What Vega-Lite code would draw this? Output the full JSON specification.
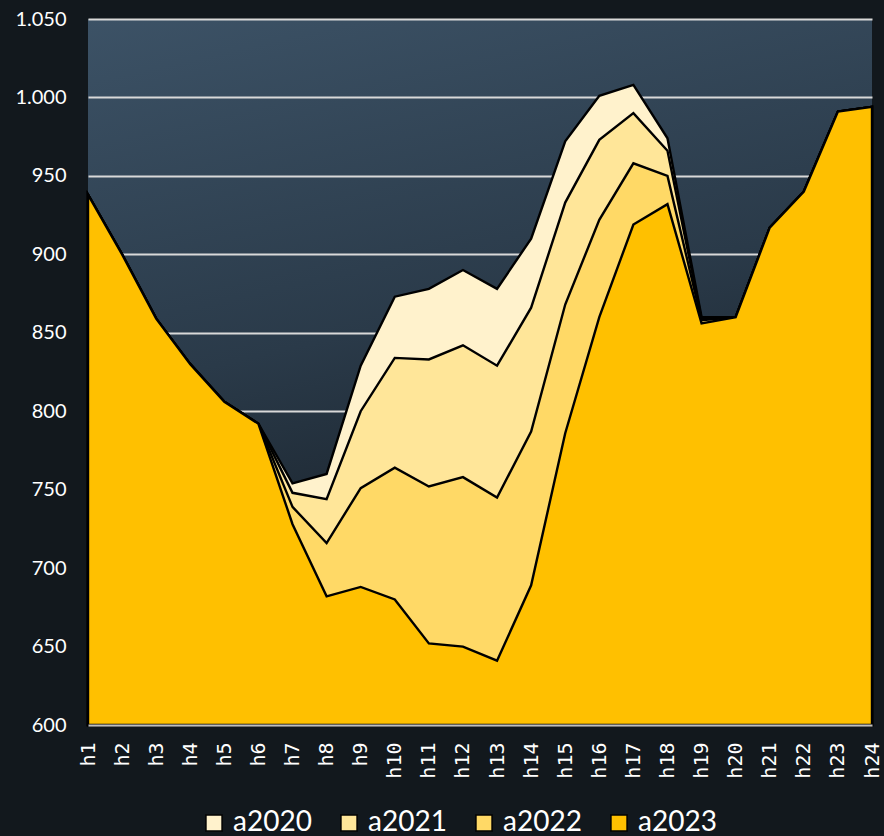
{
  "$schema": "https://vega.github.io/schema/vega-lite/v6.json",
  "autosize": "none",
  "width": 784,
  "height": 706,
  "padding": {"left": 88, "top": 19, "right": 12, "bottom": 111},
  "background": "#12181d",
  "config": {
    "view": {"stroke": null, "fill": {"gradient": "linear", "x1": 0, "y1": 0, "x2": 0.25, "y2": 1, "stops": [{"offset": 0, "color": "#3c5266"}, {"offset": 0.5, "color": "#2a3a49"}, {"offset": 1, "color": "#12181e"}]}},
    "font": "Lato"
  },
  "data": {
    "values": [
      {"h": "h1", "s": "a2020", "v": 938}, {"h": "h2", "s": "a2020", "v": 900}, {"h": "h3", "s": "a2020", "v": 859}, {"h": "h4", "s": "a2020", "v": 830},
      {"h": "h5", "s": "a2020", "v": 806}, {"h": "h6", "s": "a2020", "v": 792}, {"h": "h7", "s": "a2020", "v": 754}, {"h": "h8", "s": "a2020", "v": 760},
      {"h": "h9", "s": "a2020", "v": 829}, {"h": "h10", "s": "a2020", "v": 873}, {"h": "h11", "s": "a2020", "v": 878}, {"h": "h12", "s": "a2020", "v": 890},
      {"h": "h13", "s": "a2020", "v": 878}, {"h": "h14", "s": "a2020", "v": 910}, {"h": "h15", "s": "a2020", "v": 972}, {"h": "h16", "s": "a2020", "v": 1001},
      {"h": "h17", "s": "a2020", "v": 1008}, {"h": "h18", "s": "a2020", "v": 974}, {"h": "h19", "s": "a2020", "v": 860}, {"h": "h20", "s": "a2020", "v": 860},
      {"h": "h21", "s": "a2020", "v": 917}, {"h": "h22", "s": "a2020", "v": 940}, {"h": "h23", "s": "a2020", "v": 991}, {"h": "h24", "s": "a2020", "v": 994},
      {"h": "h1", "s": "a2021", "v": 938}, {"h": "h2", "s": "a2021", "v": 900}, {"h": "h3", "s": "a2021", "v": 859}, {"h": "h4", "s": "a2021", "v": 830},
      {"h": "h5", "s": "a2021", "v": 806}, {"h": "h6", "s": "a2021", "v": 792}, {"h": "h7", "s": "a2021", "v": 748}, {"h": "h8", "s": "a2021", "v": 744},
      {"h": "h9", "s": "a2021", "v": 800}, {"h": "h10", "s": "a2021", "v": 834}, {"h": "h11", "s": "a2021", "v": 833}, {"h": "h12", "s": "a2021", "v": 842},
      {"h": "h13", "s": "a2021", "v": 829}, {"h": "h14", "s": "a2021", "v": 866}, {"h": "h15", "s": "a2021", "v": 933}, {"h": "h16", "s": "a2021", "v": 973},
      {"h": "h17", "s": "a2021", "v": 990}, {"h": "h18", "s": "a2021", "v": 966}, {"h": "h19", "s": "a2021", "v": 859}, {"h": "h20", "s": "a2021", "v": 860},
      {"h": "h21", "s": "a2021", "v": 917}, {"h": "h22", "s": "a2021", "v": 940}, {"h": "h23", "s": "a2021", "v": 991}, {"h": "h24", "s": "a2021", "v": 994},
      {"h": "h1", "s": "a2022", "v": 938}, {"h": "h2", "s": "a2022", "v": 900}, {"h": "h3", "s": "a2022", "v": 859}, {"h": "h4", "s": "a2022", "v": 830},
      {"h": "h5", "s": "a2022", "v": 806}, {"h": "h6", "s": "a2022", "v": 792}, {"h": "h7", "s": "a2022", "v": 739}, {"h": "h8", "s": "a2022", "v": 716},
      {"h": "h9", "s": "a2022", "v": 751}, {"h": "h10", "s": "a2022", "v": 764}, {"h": "h11", "s": "a2022", "v": 752}, {"h": "h12", "s": "a2022", "v": 758},
      {"h": "h13", "s": "a2022", "v": 745}, {"h": "h14", "s": "a2022", "v": 787}, {"h": "h15", "s": "a2022", "v": 868}, {"h": "h16", "s": "a2022", "v": 922},
      {"h": "h17", "s": "a2022", "v": 958}, {"h": "h18", "s": "a2022", "v": 950}, {"h": "h19", "s": "a2022", "v": 858}, {"h": "h20", "s": "a2022", "v": 860},
      {"h": "h21", "s": "a2022", "v": 917}, {"h": "h22", "s": "a2022", "v": 940}, {"h": "h23", "s": "a2022", "v": 991}, {"h": "h24", "s": "a2022", "v": 994},
      {"h": "h1", "s": "a2023", "v": 938}, {"h": "h2", "s": "a2023", "v": 900}, {"h": "h3", "s": "a2023", "v": 859}, {"h": "h4", "s": "a2023", "v": 830},
      {"h": "h5", "s": "a2023", "v": 806}, {"h": "h6", "s": "a2023", "v": 792}, {"h": "h7", "s": "a2023", "v": 728}, {"h": "h8", "s": "a2023", "v": 682},
      {"h": "h9", "s": "a2023", "v": 688}, {"h": "h10", "s": "a2023", "v": 680}, {"h": "h11", "s": "a2023", "v": 652}, {"h": "h12", "s": "a2023", "v": 650},
      {"h": "h13", "s": "a2023", "v": 641}, {"h": "h14", "s": "a2023", "v": 689}, {"h": "h15", "s": "a2023", "v": 786}, {"h": "h16", "s": "a2023", "v": 860},
      {"h": "h17", "s": "a2023", "v": 919}, {"h": "h18", "s": "a2023", "v": 932}, {"h": "h19", "s": "a2023", "v": 856}, {"h": "h20", "s": "a2023", "v": 860},
      {"h": "h21", "s": "a2023", "v": 917}, {"h": "h22", "s": "a2023", "v": 940}, {"h": "h23", "s": "a2023", "v": 991}, {"h": "h24", "s": "a2023", "v": 994}
    ]
  },
  "encoding": {
    "x": {
      "field": "h", "type": "ordinal",
      "scale": {"type": "point", "padding": 0, "domain": ["h1","h2","h3","h4","h5","h6","h7","h8","h9","h10","h11","h12","h13","h14","h15","h16","h17","h18","h19","h20","h21","h22","h23","h24"]},
      "axis": {"title": null, "labelAngle": 270, "labelAlign": "right", "labelBaseline": "middle", "labelFont": "DejaVu Sans Mono", "labelFontSize": 20, "labelColor": "#ffffff", "labelPadding": 17, "labelOverlap": false, "ticks": false, "domainColor": "#bfbfbf", "domainWidth": 2, "grid": false, "zindex": 1}
    },
    "y": {
      "field": "v", "type": "quantitative",
      "scale": {"domain": [600, 1050], "nice": false, "zero": false},
      "axis": {"title": null, "values": [600,650,700,750,800,850,900,950,1000,1050], "labelExpr": "replace(format(datum.value, ','), ',', '.')", "labelFontSize": 20, "labelColor": "#ffffff", "labelPadding": 22, "ticks": false, "domain": false, "gridColor": "#d9d9d9", "gridWidth": 1.8, "gridOpacity": 1}
    },
    "y2": {"datum": 600},
    "color": {
      "field": "s", "type": "nominal",
      "scale": {"domain": ["a2020","a2021","a2022","a2023"], "range": ["#fff2cc","#ffe699","#ffd966","#ffc000"]},
      "legend": {"title": null, "orient": "none", "direction": "horizontal", "legendX": 112, "legendY": 790, "symbolType": "square", "symbolSize": 260, "symbolStrokeColor": "#000000", "symbolStrokeWidth": 1.5, "symbolOpacity": 1, "labelFontSize": 28, "labelColor": "#ffffff", "labelOffset": 5, "columnPadding": 23}
    }
  },
  "layer": [
    {"transform": [{"filter": "datum.s === 'a2020'"}], "mark": {"type": "area", "opacity": 1, "stroke": "#000000", "strokeWidth": 2.4, "strokeJoin": "miter"}},
    {"transform": [{"filter": "datum.s === 'a2021'"}], "mark": {"type": "area", "opacity": 1, "stroke": "#000000", "strokeWidth": 2.4, "strokeJoin": "miter"}},
    {"transform": [{"filter": "datum.s === 'a2022'"}], "mark": {"type": "area", "opacity": 1, "stroke": "#000000", "strokeWidth": 2.4, "strokeJoin": "miter"}},
    {"transform": [{"filter": "datum.s === 'a2023'"}], "mark": {"type": "area", "opacity": 1, "stroke": "#000000", "strokeWidth": 2.4, "strokeJoin": "miter"}}
  ]
}
